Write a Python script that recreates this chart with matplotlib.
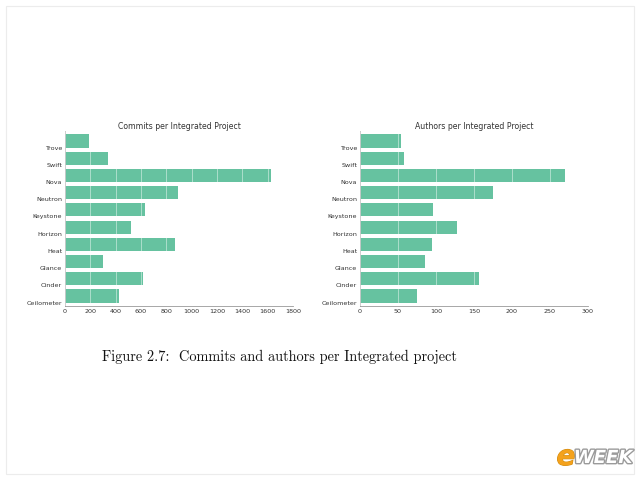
import matplotlib
matplotlib.use("Agg")
import matplotlib.pyplot as plt
import matplotlib.patheffects as pe
from matplotlib.patches import Rectangle

projects = ["Ceilometer", "Cinder", "Glance", "Heat", "Horizon",
            "Keystone", "Neutron", "Nova", "Swift", "Trove"]
commits = [424, 619, 300, 871, 519, 635, 892, 1629, 342, 190]
authors = [75, 156, 86, 95, 128, 96, 175, 270, 58, 54]

commit_ticks = [0, 200, 400, 600, 800, 1000, 1200, 1400, 1600, 1800]
author_ticks = [0, 50, 100, 150, 200, 250, 300]

bar_color = "#66c2a0"
text_color = "#333333"

fig = plt.figure(figsize=(6.4, 4.8), dpi=100)
fig.patch.set_facecolor("white")

# faint page border
fig.add_artist(Rectangle((6 / 640, 6 / 480), 1 - 12 / 640, 1 - 12 / 480,
                         transform=fig.transFigure, fill=False,
                         edgecolor="#ececec", linewidth=0.8))


def draw(ax, values, ticks, title):
    ypos = range(len(projects))
    ax.barh(ypos, values, height=0.76, align="edge", color=bar_color,
            edgecolor="none", zorder=1)
    ax.set_xlim(ticks[0], ticks[-1])
    ax.set_ylim(-0.2, 9.96)
    ax.set_xticks(ticks)
    ax.set_yticks(list(ypos))
    ax.set_yticklabels(projects)
    ax.tick_params(axis="both", length=0, labelsize=4.6, colors=text_color, pad=2)
    ax.grid(axis="x", color="white", linewidth=0.4, alpha=0.8, zorder=2)
    ax.set_axisbelow(False)
    for s in ("top", "right"):
        ax.spines[s].set_visible(False)
    for s in ("left", "bottom"):
        ax.spines[s].set_color("#999999")
        ax.spines[s].set_linewidth(0.6)
    ax.set_title(title, fontsize=5.6, color=text_color, pad=1.5)


ax1 = fig.add_axes([65 / 640, 1 - 306 / 480, 228 / 640, 175 / 480])
draw(ax1, commits, commit_ticks, "Commits per Integrated Project")

ax2 = fig.add_axes([360 / 640, 1 - 306 / 480, 228 / 640, 175 / 480])
draw(ax2, authors, author_ticks, "Authors per Integrated Project")

fig.text(279 / 640, 1 - 357 / 480,
         "Figure 2.7:  Commits and authors per Integrated project",
         ha="center", va="center", fontsize=10.3, family="cmr10",
         color="#111111")

# eWEEK logo
fig.text(566 / 640, 1 - 457 / 480, "e", fontsize=20, fontweight="bold",
         style="italic", color="#f4a21c", ha="center", va="center",
         path_effects=[pe.withStroke(linewidth=0.8, foreground="#d08a10")])
fig.text(603 / 640, 1 - 458 / 480, "WEEK", fontsize=13, fontweight="bold",
         style="italic", color="white", ha="center", va="center",
         path_effects=[pe.withStroke(linewidth=2, foreground="#9a9a9a")])

fig.savefig("out.png", dpi=100)
